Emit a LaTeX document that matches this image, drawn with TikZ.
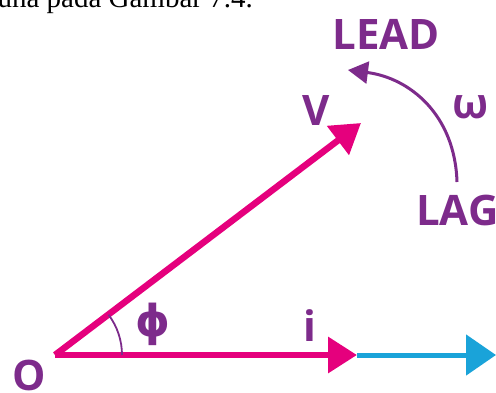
\documentclass[tikz,border=0pt]{standalone}
\usepackage{fontspec}
\usetikzlibrary{arrows.meta}
\newfontfamily\labfont{Open Sans}
\newfontfamily\symfont{DejaVu Sans}
\newfontfamily\txtfont{Liberation Serif}
\definecolor{mag}{HTML}{E5007D}
\definecolor{pur}{HTML}{7D2B8B}
\definecolor{cyanb}{HTML}{1AA3D9}
\begin{document}
\begin{tikzpicture}[x=1pt,y=-1pt,
  lab/.style={text=pur,font=\labfont\bfseries\fontsize{42}{42}\selectfont,inner sep=0pt},
  vec/.style={draw=mag,line width=6.5pt,-{Triangle[length=29pt,width=35pt]}},
  cur/.style={draw=cyanb,line width=5pt,-{Triangle[length=30pt,width=40pt]}},
  rot/.style={draw=pur,line width=3pt,-{Triangle[length=20pt,width=22pt]}}]
\useasboundingbox (0,0) rectangle (496,392);
\node[anchor=base east,font=\txtfont\fontsize{29}{29}\selectfont,inner sep=0pt] (cap) at (253,7) {una pada Gambar 7.4.};
\coordinate (o) at (55,355);
\coordinate (vt) at (361,123);
\coordinate (it) at (357,355);
\coordinate (ct) at (496,355);
\coordinate (ls) at (457,182);
\coordinate (le) at (348,70);
\draw[cur] (it) -- (ct);
\draw[vec] (o) -- (it);
\draw[vec] (o) -- (vt);
\draw[pur,line width=1.8pt] (122,355) arc[start angle=0,end angle=-37,radius=67];
\draw[rot] (ls) .. controls (455,115) and (410,78) .. (le);
\node[lab] (O) at (29,375) {O};
\node[lab] (V) at (316,111) {V};
\node[lab] (i) at (310,326) {i};
\node[lab,font=\symfont\bfseries\fontsize{44}{44}\selectfont] (phi) at (153,324) {ϕ};
\node[lab] (lead) at (386,34) {LEAD};
\node[lab,anchor=west] (lag) at (416,210) {LAG};
\node[lab] (om) at (471,107) {ω};
\end{tikzpicture}
\end{document}
